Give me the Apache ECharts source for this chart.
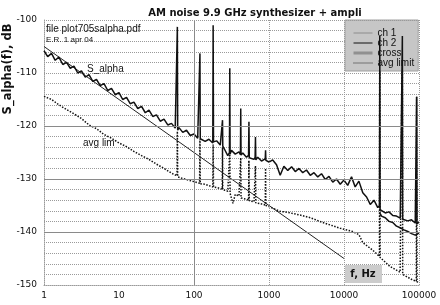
<!DOCTYPE html>
<html><head><meta charset="utf-8">
<script src="https://cdn.jsdelivr.net/npm/echarts@6/dist/echarts.min.js"></script>
<style>html,body{margin:0;padding:0;background:#fff}#c{width:440px;height:305px}</style>
</head><body><div id="c"></div>
<script>
// ---- data ----
const xTicks = [1, 10, 100, 1000, 10000, 100000];
const yTicks = [-150, -140, -130, -120, -110, -100];

// main measured S_alpha (cross spectrum) 1 Hz .. 30 kHz
const crossFreq = [1,1.12,1.26,1.41,1.58,1.78,2,2.24,2.51,2.82,3.16,3.55,3.98,4.47,5.01,5.62,6.31,7.08,7.94,8.91,
 10,11.2,12.6,14.1,15.8,17.8,20,22.4,25.1,28.2,31.6,35.5,39.8,44.7,50.1,56.2,59.4,60,60.6,63.1,70.8,79.4,89.1,
 100,112,118.8,120,121.2,126,141,158,178,180,182,200,224,238,240,242,251,282,297,300,303,316,355,398,416,420,424,
 447,501,534,540,546,562,631,653,660,667,708,794,891,900,909,
 1000,1120,1260,1410,1580,1780,2000,2240,2510,2820,3160,3550,3980,4470,5010,5620,6310,7080,7940,8910,
 10000,11200,12600,14100,15800,17800,20000,22400,25100,28200,29700,30000,30300];
const crossDb = [-105.8,-106.9,-106.3,-107.6,-107.0,-108.4,-108.0,-109.1,-108.7,-110.0,-109.6,-110.8,-110.3,-111.6,-111.2,-112.4,-112.0,-113.3,-112.9,-114.1,
 -113.7,-115.0,-114.6,-115.8,-115.5,-116.7,-116.3,-117.5,-117.0,-118.2,-117.9,-119.1,-118.7,-119.8,-119.5,-120.4,-120.6,-101.3,-120.8,-120.3,-121.2,-120.8,-121.8,
 -121.5,-122.3,-122.0,-106.3,-122.4,-122.1,-122.9,-122.5,-123.2,-101.0,-123.0,-122.8,-123.6,-123.4,-118.9,-123.8,-124.2,-125.6,-125.0,-109.1,-125.3,-124.6,-125.3,-124.9,-125.4,-116.7,-125.5,
 -125.1,-125.9,-125.5,-119.2,-126.0,-125.7,-126.3,-125.9,-122.1,-126.4,-125.9,-126.6,-126.2,-124.6,-126.5,
 -126.8,-126.4,-127.3,-129.3,-127.6,-128.4,-127.7,-128.6,-128.0,-128.8,-128.3,-129.3,-128.8,-129.6,-129.0,-130.1,-129.5,-130.6,-130.0,-131.0,
 -130.2,-131.2,-129.6,-131.5,-130.4,-132.6,-133.4,-134.8,-134.0,-135.4,-135.0,-103.0,-135.8];

// channel 1 (upper branch above 30 kHz)
const ch1Freq = [30300,31600,35500,39800,44700,50100,56200,59400,60000,60600,63100,70800,79400,89100,92000,93000,94000,100000];
const ch1Db = [-135.8,-136.0,-136.4,-136.2,-136.9,-137.0,-137.4,-137.3,-103.0,-137.6,-137.5,-137.9,-137.7,-138.3,-138.2,-114.5,-138.4,-138.2];

// channel 2 (lower branch above 30 kHz)
const ch2Freq = [30300,31600,35500,39800,44700,50100,56200,63100,70800,79400,89100,100000];
const ch2Db = [-136.5,-137.0,-137.3,-138.0,-138.2,-138.9,-139.2,-139.6,-139.9,-140.3,-140.6,-140.2];

// averaging limit
const avgFreq = [1,1.26,1.58,2,2.51,3.16,3.98,5.01,6.31,7.94,10,12.6,15.8,20,25.1,31.6,39.8,50.1,59.4,60,60.6,70.8,79.4,
 100,118.8,120,121.2,141,178,180,182,200,238,240,242,282,297,300,303,330,355,398,416,420,424,501,534,540,546,631,653,660,667,794,891,900,909,
 1000,1400,1780,2600,3550,4750,6310,8900,13000,15800,17800,24000,29700,30000,30300,41000,56000,59400,60000,60600,81000,92000,93000,94000,100000];
const avgDb = [-114.4,-115.0,-116.0,-116.9,-117.7,-118.6,-119.8,-120.5,-121.6,-122.3,-123.2,-123.9,-124.8,-125.6,-126.3,-127.2,-128.0,-128.9,-129.4,-121.0,-129.6,-129.9,-130.1,
 -130.5,-130.8,-122.5,-130.9,-131.0,-131.5,-123.5,-131.5,-131.6,-131.9,-124.0,-132.0,-132.3,-132.6,-125.0,-132.7,-134.6,-132.9,-133.2,-133.5,-126.0,-133.6,-133.8,-134.0,-126.5,-134.1,-134.3,-134.4,-127.5,-134.5,-134.7,-134.9,-128.0,-135.0,
 -135.2,-136.1,-136.3,-136.8,-137.3,-138.0,-138.6,-139.3,-139.9,-140.5,-142.0,-143.4,-144.6,-103.0,-144.8,-146.5,-147.6,-147.8,-103.0,-148.0,-149.0,-149.3,-114.5,-149.4,-149.5];

// 1/f reference line
const refFreq = [1, 10000];
const refDb = [-105, -145];

// ---- chart ----
const zip = (a, b) => a.map((v, i) => [v, b[i]]);
const F = 'DejaVu Sans';
const A = 'Liberation Sans';
const chart = echarts.init(document.getElementById('c'), null, {renderer: 'canvas'});
const dotted = {type: 'dotted', color: '#9a9a9a', width: 1};
const solid = {type: 'solid', color: '#8a8a8a', width: 1};
const hidden = {opacity: 0};
chart.setOption({
  animation: false,
  backgroundColor: '#fff',
  title: {text: 'AM noise 9.9 GHz synthesizer + ampli', left: 250, textAlign: 'center', top: 3,
    textStyle: {fontFamily: F, fontWeight: 'bold', fontSize: 10, color: '#111'}},
  grid: {left: 44, right: 21, top: 20, bottom: 20, show: false},
  legend: {
    orient: 'vertical', left: 345, top: 20, itemWidth: 19, itemHeight: 10, itemGap: 0,
    padding: [8, 4, 3, 7], backgroundColor: '#c6c6c6', borderColor: '#a0a0a0', borderWidth: 1,
    textStyle: {fontFamily: A, fontSize: 10, color: '#111', lineHeight: 10},
    data: [
      {name: 'ch 1', itemStyle: hidden, lineStyle: {color: '#8c8c8c', width: 1}},
      {name: 'ch 2', itemStyle: hidden, lineStyle: {color: '#111', width: 1}},
      {name: 'cross', itemStyle: hidden, lineStyle: {color: '#909090', width: 3}},
      {name: 'avg limit', itemStyle: hidden, lineStyle: {color: '#222', width: 1, type: 'dotted'}}
    ]
  },
  xAxis: {type: 'log', logBase: 10, min: xTicks[0], max: xTicks[xTicks.length - 1],
    axisLine: {show: true, lineStyle: dotted}, axisTick: {show: false},
    splitLine: {show: false},
    axisLabel: {fontFamily: F, fontSize: 9, color: '#111', margin: 6, formatter: v => String(Math.round(v))}},
  yAxis: {type: 'value', min: yTicks[0], max: yTicks[yTicks.length - 1], interval: 10,
    axisLine: {show: true, lineStyle: dotted}, axisTick: {show: false},
    splitLine: {show: true, lineStyle: dotted},
    minorTick: {show: false, splitNumber: 5},
    minorSplitLine: {show: true, lineStyle: dotted},
    axisLabel: {fontFamily: F, fontSize: 9, color: '#111', margin: 7}},
  graphic: [
    {type: 'text', x: 8, y: 69, rotation: Math.PI / 2,
      style: {text: 'S_alpha(f), dB', fontFamily: F, fontWeight: 'bold', fontSize: 11.5, fill: '#111', align: 'center', verticalAlign: 'middle'}},
    {type: 'text', x: 46, y: 29, z: 10, style: {text: 'file plot705salpha.pdf', fontFamily: A, fontSize: 10, fill: '#111', align: 'left', verticalAlign: 'middle'}},
    {type: 'text', x: 46, y: 40, z: 10, style: {text: 'E.R. 1 apr 04', fontFamily: A, fontSize: 8, fill: '#111', align: 'left', verticalAlign: 'middle'}},
    {type: 'text', x: 87, y: 69, z: 10, style: {text: 'S_alpha', fontFamily: A, fontSize: 10, fill: '#111', align: 'left', verticalAlign: 'middle'}},
    {type: 'text', x: 83, y: 143, z: 10, style: {text: 'avg lim', fontFamily: A, fontSize: 10, fill: '#111', align: 'left', verticalAlign: 'middle'}},
    {type: 'rect', shape: {x: 345, y: 265, width: 37, height: 18}, z: 10, style: {fill: '#cccccc'}},
    {type: 'text', x: 363, y: 274, z: 11, style: {text: 'f, Hz', fontFamily: F, fontWeight: 'bold', fontSize: 10, fill: '#111', align: 'center', verticalAlign: 'middle'}}
  ],
  series: [
    {name: 'grid', type: 'line', data: [], z: 1, silent: true,
      markLine: {silent: true, symbol: 'none', label: {show: false}, animation: false,
        data: [
          {yAxis: -120, lineStyle: solid}, {yAxis: -130, lineStyle: solid}, {yAxis: -140, lineStyle: solid},
          {xAxis: 100, lineStyle: solid},
          {xAxis: 1000, lineStyle: dotted}, {xAxis: 10000, lineStyle: dotted}, {xAxis: 100000, lineStyle: dotted},
          {yAxis: -100, lineStyle: dotted}
        ]}},
    {name: 'avg limit', type: 'line', data: zip(avgFreq, avgDb), symbol: 'none', z: 3,
      lineStyle: {type: 'dotted', color: '#111', width: 1.5}, itemStyle: {color: '#111'}},
    {name: '1/f', type: 'line', data: zip(refFreq, refDb), symbol: 'none', z: 3,
      lineStyle: {color: '#222', width: 1}},
    {name: 'cross', type: 'line', data: zip(crossFreq, crossDb), symbol: 'none', z: 4,
      lineStyle: {color: '#111', width: 1.5}, itemStyle: {color: '#111'}},
    {name: 'ch 1', type: 'line', data: zip(ch1Freq, ch1Db), symbol: 'none', z: 4,
      lineStyle: {color: '#111', width: 1.5}, itemStyle: {color: '#111'}},
    {name: 'ch 2', type: 'line', data: zip(ch2Freq, ch2Db), symbol: 'none', z: 4,
      lineStyle: {color: '#111', width: 1.5}, itemStyle: {color: '#111'}}
  ]
});
</script></body></html>
